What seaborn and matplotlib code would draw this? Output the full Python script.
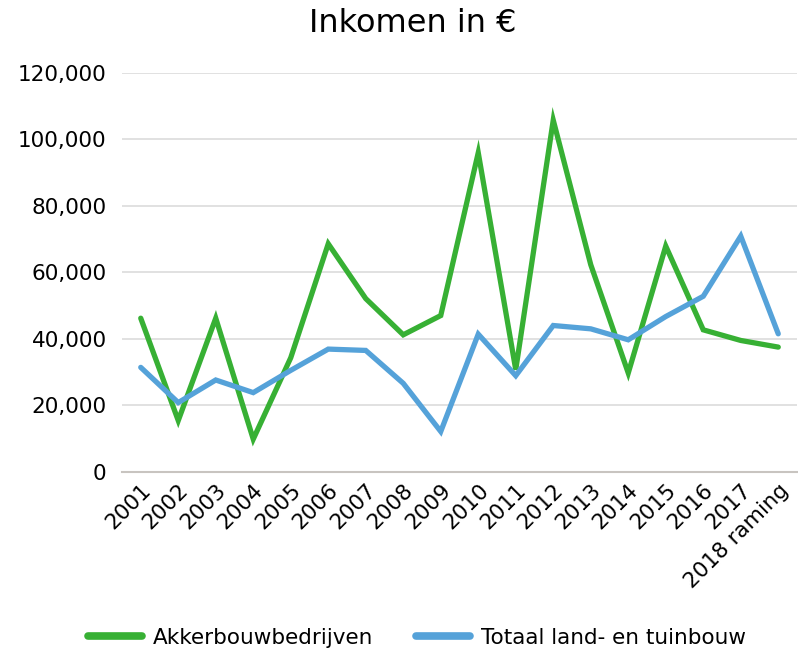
import pandas as pd
import matplotlib
matplotlib.use("Agg")
import matplotlib.pyplot as plt
import matplotlib.ticker as mticker
import seaborn as sns

# data
jaren = ["2001", "2002", "2003", "2004", "2005", "2006", "2007", "2008", "2009",
         "2010", "2011", "2012", "2013", "2014", "2015", "2016", "2017", "2018 raming"]
akkerbouw = [46200, 15400, 46200, 9800, 34300, 68600, 52100, 41200, 47000,
             96000, 30700, 105800, 62300, 29700, 67900, 42700, 39500, 37500]
totaal = [31400, 20800, 27600, 23800, 30500, 36900, 36500, 26600, 12100,
          41400, 28900, 44000, 43000, 39700, 46700, 52800, 70900, 41500]

df = pd.DataFrame({"jaar": jaren * 2,
                   "inkomen": akkerbouw + totaal,
                   "reeks": ["Akkerbouwbedrijven"] * len(jaren) + ["Totaal land- en tuinbouw"] * len(jaren)})
df["pos"] = list(range(len(jaren))) * 2

sns.set_style("white")
plt.rcParams["font.family"] = ["DejaVu Sans"]
plt.rcParams["text.color"] = "black"

fig = plt.figure(figsize=(7.98, 6.5), dpi=100)
ax = fig.add_axes([122 / 798, 1 - 471.7 / 650, 675 / 798, 398.7 / 650])

sns.lineplot(data=df, x="pos", y="inkomen", hue="reeks",
             palette=["#37B034", "#55A2D9"], linewidth=3.8, sort=False,
             legend=False, ax=ax)
for l in ax.lines:
    l.set_solid_capstyle("round")
    l.set_solid_joinstyle("miter")

ax.set_xlim(-0.5, len(jaren) - 0.5)
ax.set_ylim(0, 120000)
ax.set_yticks(range(0, 120001, 20000))
ax.yaxis.set_major_formatter(mticker.FuncFormatter(lambda v, p: f"{v:,.0f}"))
ax.set_xticks(range(len(jaren)))
ax.set_xticklabels(jaren, rotation=45, ha="right", rotation_mode="anchor")
ax.tick_params(axis="both", length=0, labelsize=15.5, colors="#000000")
ax.tick_params(axis="y", pad=11)
ax.tick_params(axis="x", pad=6)
ax.grid(axis="y", color="#D9D9D9", linewidth=1.1)
ax.set_axisbelow(True)
for s in ["left", "right", "top"]:
    ax.spines[s].set_visible(False)
ax.spines["bottom"].set_color("#C8C4C0")
ax.spines["bottom"].set_linewidth(1.5)
ax.set_xlabel("")
ax.set_ylabel("")

fig.text(413 / 798, 1 - 23 / 650, "Inkomen in €", ha="center", va="center",
         fontsize=23, color="black")

handles = [plt.Line2D([], [], color="#37B034", linewidth=5.5, solid_capstyle="round"),
           plt.Line2D([], [], color="#55A2D9", linewidth=5.5, solid_capstyle="round")]
fig.legend(handles, ["Akkerbouwbedrijven", "Totaal land- en tuinbouw"],
           loc="center", bbox_to_anchor=(417 / 798, 1 - 638 / 650), ncol=2,
           frameon=False, fontsize=15.5, handlelength=2.5, handletextpad=0.5,
           columnspacing=2.0, labelcolor="black")

fig.savefig("out.png", dpi=100)
